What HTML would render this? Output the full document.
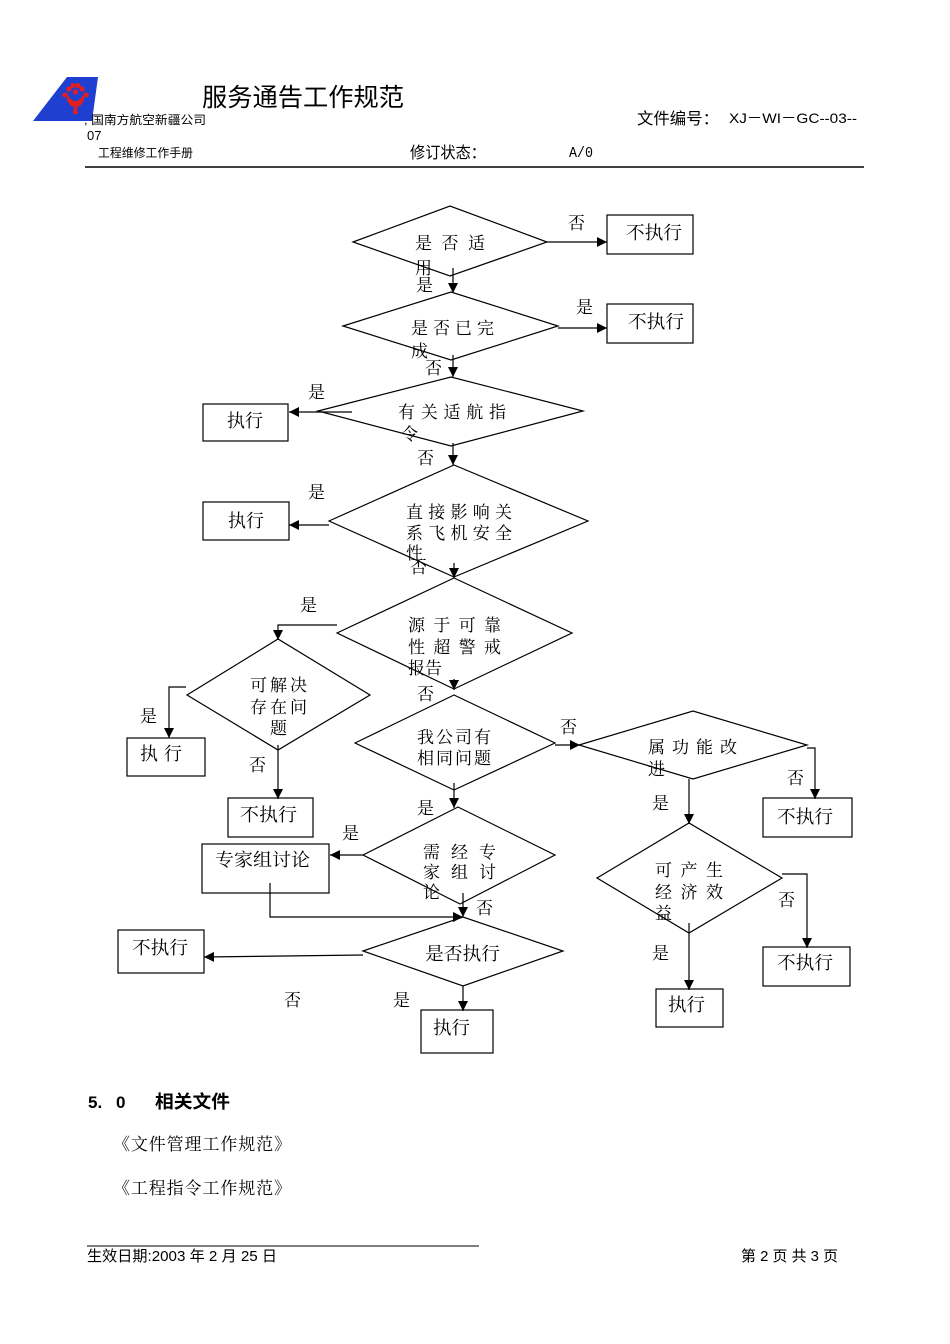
<!DOCTYPE html>
<html><head><meta charset="utf-8">
<style>
html,body{margin:0;padding:0;background:#fff;}
svg{display:block;}
.s{font-family:"Liberation Serif","Noto Serif CJK SC",serif;font-size:17px;fill:#000;}
.h{font-family:"Liberation Sans","Noto Sans CJK SC",sans-serif;fill:#000;}
</style></head>
<body>
<svg width="950" height="1344" viewBox="0 0 950 1344" xmlns="http://www.w3.org/2000/svg">
<defs>
<marker id="a" markerUnits="userSpaceOnUse" markerWidth="11" markerHeight="11" refX="10" refY="5.5" orient="auto">
<path d="M0,0.5 L10,5.5 L0,10.5 z" fill="#000"/>
</marker>
</defs>
<rect width="950" height="1344" fill="#fff"/>

<!-- Header -->
<polygon points="67,77 98,77 92,121 33,121" fill="#1f3fd0"/>
<g fill="#e02020">
<path d="M66,91 Q66,105 74,107 L73,114 L78,114 L77,107 Q85,105 85,91 Q81,101 75.5,101 Q70,101 66,91z"/>
<circle cx="69" cy="89" r="2.6"/><circle cx="73" cy="85.5" r="2.6"/><circle cx="78" cy="85.5" r="2.6"/><circle cx="82" cy="89" r="2.6"/>
<circle cx="64.5" cy="95" r="2.3"/><circle cx="86.5" cy="95" r="2.3"/><circle cx="75.5" cy="92" r="2.6"/>
</g>
<text class="h" x="202" y="106" font-size="25" textLength="202" lengthAdjust="spacingAndGlyphs">服务通告工作规范</text>
<text class="h" x="84" y="124" font-size="12" textLength="122" lengthAdjust="spacingAndGlyphs">, 国南方航空新疆公司</text>
<text class="h" x="87" y="140" font-size="13">07</text>
<text class="h" x="98" y="157" font-size="12" textLength="95" lengthAdjust="spacingAndGlyphs">工程维修工作手册</text>
<text class="h" x="410" y="158" font-size="16" textLength="76" lengthAdjust="spacingAndGlyphs">修订状态：</text>
<text class="h" x="569" y="157" font-size="15" style="font-family:'Liberation Mono',monospace" textLength="24" lengthAdjust="spacingAndGlyphs">A/0</text>
<text class="h" x="637" y="124" font-size="16" textLength="82" lengthAdjust="spacingAndGlyphs">文件编号：</text>
<text class="h" x="729" y="123" font-size="14" textLength="128" lengthAdjust="spacingAndGlyphs">XJ－WI－GC--03--</text>
<line x1="85" y1="167" x2="864" y2="167" stroke="#000" stroke-width="1.5"/>

<g stroke="#000" stroke-width="1.2" fill="none">
<!-- D1 -->
<polygon points="353,242 450,206 547,242 450,276"/>
<line x1="453" y1="268" x2="453" y2="293" marker-end="url(#a)"/>
<line x1="547" y1="242" x2="607" y2="242" marker-end="url(#a)"/>
<rect x="607" y="215" width="86" height="39"/>
<!-- D2 -->
<polygon points="343,326 451,292 558,326 451,360"/>
<line x1="453" y1="355" x2="453" y2="377" marker-end="url(#a)"/>
<line x1="558" y1="328" x2="607" y2="328" marker-end="url(#a)"/>
<rect x="607" y="304" width="86" height="39"/>
<!-- D3 -->
<polygon points="318,411 451,377 583,411 451,446"/>
<line x1="352" y1="412" x2="289" y2="412" marker-end="url(#a)"/>
<rect x="203" y="404" width="85" height="37"/>
<line x1="453" y1="443" x2="453" y2="465" marker-end="url(#a)"/>
<!-- D4 -->
<polygon points="329,521 454,465 588,521 454,577"/>
<line x1="329" y1="525" x2="289" y2="525" marker-end="url(#a)"/>
<rect x="203" y="502" width="86" height="38"/>
<line x1="454" y1="563" x2="454" y2="578" marker-end="url(#a)"/>
<!-- D5 -->
<polygon points="337,633 454,578 572,633 454,689"/>
<line x1="454" y1="679" x2="454" y2="690" marker-end="url(#a)"/>
<polyline points="337,625 278,625 278,640" marker-end="url(#a)"/>
<!-- D6 -->
<polygon points="187,695 278,639 370,695 278,750"/>
<polyline points="186,687 169,687 169,738" marker-end="url(#a)"/>
<rect x="127" y="738" width="78" height="38"/>
<line x1="278" y1="745" x2="278" y2="799" marker-end="url(#a)"/>
<rect x="228" y="798" width="85" height="39"/>
<!-- D7 -->
<polygon points="355,743 454,695 555,743 454,790"/>
<line x1="454" y1="783" x2="454" y2="808" marker-end="url(#a)"/>
<line x1="555" y1="745" x2="580" y2="745" marker-end="url(#a)"/>
<!-- D9 -->
<polygon points="579,745 693,711 807,745 693,779"/>
<polyline points="807,748 815,748 815,799" marker-end="url(#a)"/>
<rect x="763" y="798" width="89" height="39"/>
<line x1="689" y1="779" x2="689" y2="824" marker-end="url(#a)"/>
<!-- D10 -->
<polygon points="597,878 689,823 782,878 689,933"/>
<polyline points="782,874 807,874 807,948" marker-end="url(#a)"/>
<rect x="763" y="947" width="87" height="39"/>
<line x1="689" y1="923" x2="689" y2="990" marker-end="url(#a)"/>
<rect x="656" y="989" width="67" height="38"/>
<!-- D8 -->
<polygon points="363,855 458,807 555,855 460,904"/>
<line x1="363" y1="855" x2="330" y2="855" marker-end="url(#a)"/>
<rect x="202" y="844" width="127" height="49"/>
<polyline points="270,883 270,917 463,917" marker-end="url(#a)"/>
<line x1="463" y1="893" x2="463" y2="917" marker-end="url(#a)"/>
<!-- D11 -->
<polygon points="363,951 463,917 563,951 463,986"/>
<line x1="363" y1="955" x2="204" y2="957" marker-end="url(#a)"/>
<rect x="118" y="930" width="86" height="43"/>
<line x1="463" y1="986" x2="463" y2="1011" marker-end="url(#a)"/>
<rect x="421" y="1010" width="72" height="43"/>
</g>

<!-- flow text -->
<g class="s">
<text x="415" y="249" textLength="70" lengthAdjust="spacing">是否适</text>
<text x="415" y="274">用</text>
<text x="416" y="291">是</text>
<text x="568" y="229">否</text>
<text x="626" y="239" font-size="18" textLength="56" lengthAdjust="spacingAndGlyphs">不执行</text>

<text x="411" y="334" textLength="83" lengthAdjust="spacing">是否已完</text>
<text x="411" y="357">成</text>
<text x="425" y="374">否</text>
<text x="576" y="313">是</text>
<text x="628" y="328" font-size="18" textLength="56" lengthAdjust="spacingAndGlyphs">不执行</text>

<text x="398" y="418" textLength="108" lengthAdjust="spacing">有关适航指</text>
<text x="401" y="440">令</text>
<text x="308" y="398">是</text>
<text x="227" y="427" font-size="18">执行</text>
<text x="417" y="464">否</text>

<text x="406" y="518" textLength="106" lengthAdjust="spacing">直接影响关</text>
<text x="406" y="539" textLength="106" lengthAdjust="spacing">系飞机安全</text>
<text x="406" y="559">性</text>
<text x="410" y="573">否</text>
<text x="308" y="498">是</text>
<text x="228" y="527" font-size="18">执行</text>

<text x="408" y="631" textLength="93" lengthAdjust="spacing">源于可靠</text>
<text x="408" y="653" textLength="93" lengthAdjust="spacing">性超警戒</text>
<text x="408" y="674">报告</text>
<text x="300" y="611">是</text>
<text x="417" y="700">否</text>

<text x="250" y="691" textLength="57" lengthAdjust="spacing">可解决</text>
<text x="250" y="713" textLength="57" lengthAdjust="spacing">存在问</text>
<text x="270" y="734">题</text>
<text x="140" y="722">是</text>
<text x="140" y="760" font-size="18" textLength="42" lengthAdjust="spacing">执行</text>
<text x="249" y="771">否</text>
<text x="240" y="821" font-size="18" textLength="57" lengthAdjust="spacingAndGlyphs">不执行</text>

<text x="417" y="743" textLength="74" lengthAdjust="spacing">我公司有</text>
<text x="417" y="764" textLength="74" lengthAdjust="spacing">相同问题</text>
<text x="417" y="814">是</text>
<text x="560" y="733">否</text>

<text x="648" y="753" textLength="89" lengthAdjust="spacing">属功能改</text>
<text x="648" y="775">进</text>
<text x="787" y="784">否</text>
<text x="777" y="823" font-size="18" textLength="56" lengthAdjust="spacingAndGlyphs">不执行</text>
<text x="652" y="809">是</text>

<text x="655" y="876" textLength="68" lengthAdjust="spacing">可产生</text>
<text x="655" y="898" textLength="68" lengthAdjust="spacing">经济效</text>
<text x="655" y="919">益</text>
<text x="778" y="906">否</text>
<text x="777" y="969" font-size="18" textLength="56" lengthAdjust="spacingAndGlyphs">不执行</text>
<text x="652" y="959">是</text>
<text x="668" y="1011" font-size="18" textLength="37" lengthAdjust="spacingAndGlyphs">执行</text>

<text x="423" y="858" textLength="73" lengthAdjust="spacing">需经专</text>
<text x="423" y="878" textLength="73" lengthAdjust="spacing">家组讨</text>
<text x="423" y="898">论</text>
<text x="342" y="839">是</text>
<text x="215" y="866" font-size="18" textLength="95" lengthAdjust="spacingAndGlyphs">专家组讨论</text>
<text x="476" y="914">否</text>

<text x="425" y="960" font-size="18" textLength="75" lengthAdjust="spacingAndGlyphs">是否执行</text>
<text x="132" y="954" font-size="18" textLength="56" lengthAdjust="spacingAndGlyphs">不执行</text>
<text x="284" y="1006">否</text>
<text x="393" y="1006">是</text>
<text x="433" y="1034" font-size="18" textLength="37" lengthAdjust="spacingAndGlyphs">执行</text>
</g>

<!-- Section 5.0 -->
<text class="h" x="88" y="1108" font-size="17" font-weight="bold">5.</text>
<text class="h" x="116" y="1108" font-size="17" font-weight="bold">0</text>
<text class="h" x="155" y="1108" font-size="18" font-weight="bold" textLength="75" lengthAdjust="spacingAndGlyphs">相关文件</text>
<text class="s" x="113" y="1150" font-size="17" textLength="178" lengthAdjust="spacing">《文件管理工作规范》</text>
<text class="s" x="113" y="1194" font-size="17" textLength="178" lengthAdjust="spacing">《工程指令工作规范》</text>

<!-- Footer -->
<line x1="87" y1="1246" x2="479" y2="1246" stroke="#000" stroke-width="1"/>
<text class="h" x="87" y="1261" font-size="15" textLength="190" lengthAdjust="spacingAndGlyphs">生效日期:2003 年 2 月 25 日</text>
<text class="h" x="741" y="1261" font-size="15" textLength="97" lengthAdjust="spacingAndGlyphs">第 2 页  共 3 页</text>
</svg>
</body></html>
